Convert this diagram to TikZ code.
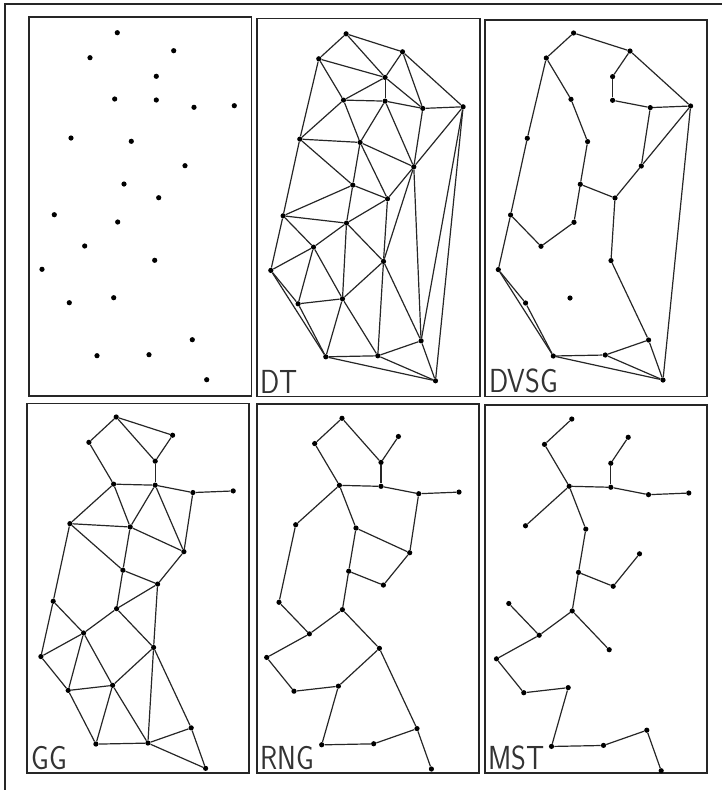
\documentclass[tikz,border=0pt]{standalone}
\usepackage{graphicx}
\begin{document}
\begin{tikzpicture}[x=0.75pt,y=-0.75pt,
  pt/.style={circle,fill=black,inner sep=0pt,minimum size=3.9pt},
  edge/.style={line width=0.9pt,black!85},
  frame/.style={line width=1.3pt,black!85},
  lab/.style={anchor=south west,inner sep=0pt,font=\fontsize{25}{25}\selectfont\sffamily,black!80}]
\useasboundingbox (0,0) rectangle (722,790);
\newcommand\ptlist{117.3/32.7/1,90/57.7/2,173.7/50.7/3,156.3/76.3/4,114.7/99/5,156.3/100/6,194/107.3/7,234.3/105.7/8,71/138/9,131.3/141.3/10,185/165.7/11,124/184/12,158.7/197.7/13,54.3/214.7/14,117.7/222/15,84.7/246/16,42/269.3/17,154.7/260.3/18,69.3/302.7/19,113.7/297.7/20,192.3/339.7/21,97/355.7/22,149/354.7/23,206.7/379.7/24}
\newcommand\mkpts[1]{\foreach \x/\y/\n in \ptlist {\node[pt] (#1\n) at (\x,\y) {};}}
\newcommand\mkedges[2]{\foreach \a/\b in {#2} {\draw[edge] (#1\a) -- (#1\b);}}
% outer frame
\draw[frame] (5,4) rectangle (730,800);
% panel frames
\draw[frame] (29,17) rectangle (251.5,396);
\draw[frame] (257.3,18.5) rectangle (480,396.5);
\draw[frame] (485,20) rectangle (706.7,396.5);
\draw[frame] (27.3,403.5) rectangle (249.3,773.3);
\draw[frame] (256.7,404) rectangle (478.7,773.3);
\draw[frame] (485,405) rectangle (706.7,773.3);
% panel 1: points
\begin{scope}
\mkpts{a}
\end{scope}
% panel 2: DT
\begin{scope}[shift={(228.8,1.1)}]
\mkpts{b}
\mkedges{b}{1/2,1/3,1/4,2/4,3/4,3/7,3/8,2/5,2/9,4/5,4/6,4/7,5/6,6/7,7/8,5/9,5/10,6/10,6/11,7/11,8/11,8/24,8/21,11/21,9/10,9/12,9/14,10/11,10/12,10/13,11/13,12/13,12/14,12/15,13/15,13/18,11/18,14/15,14/16,14/17,15/16,15/18,15/20,16/17,16/19,16/20,17/19,17/22,18/20,18/23,18/21,19/20,19/22,20/22,20/23,21/23,21/24,22/23,22/24,23/24}
\end{scope}
% panel 3: DVSG
\begin{scope}[shift={(456.3,0.3)}]
\mkpts{c}
\mkedges{c}{1/2,1/3,3/4,4/6,6/7,3/8,7/8,7/11,8/11,11/13,8/24,2/5,5/10,10/12,12/13,12/15,15/16,16/14,2/9,9/14,14/17,17/19,17/22,19/22,13/18,18/21,21/23,22/23,22/24,23/24,21/24}
\end{scope}
% panel 4: GG
\begin{scope}[shift={(-1.1,383.9)},yscale=1.0125]
\mkpts{d}
\mkedges{d}{1/2,1/3,1/4,3/4,2/5,4/6,5/6,6/7,7/8,5/9,5/10,6/10,6/11,7/11,9/10,10/11,9/12,10/12,11/13,12/13,9/14,12/15,13/15,13/18,14/16,14/17,15/16,15/18,16/17,16/19,16/20,17/19,18/20,18/23,18/21,19/20,19/22,20/22,20/23,22/23,21/23,23/24,21/24}
\end{scope}
% panel 5: RNG
\begin{scope}[shift={(224.7,385.25)},yscale=1.0107]
\mkpts{e}
\mkedges{e}{1/2,1/4,3/4,2/5,4/6,5/6,6/7,7/8,5/9,5/10,7/11,10/11,10/12,12/13,11/13,9/14,12/15,14/16,15/16,15/18,16/17,17/19,19/20,18/20,20/22,22/23,23/21,18/21,21/24}
\end{scope}
% panel 6: MST
\begin{scope}[shift={(454.5,385.9)},yscale=1.0135]
\mkpts{f}
\mkedges{f}{1/2,2/5,3/4,4/6,5/6,6/7,7/8,5/9,5/10,10/12,12/13,13/11,12/15,15/16,14/16,15/18,16/17,17/19,19/20,20/22,22/23,23/21,21/24}
\end{scope}
% labels
\node[lab] (labDT) at (260.5,393.5) {\scalebox{0.85}[1]{DT}};
\node[lab] (labDVSG) at (489,393.5) {\scalebox{0.85}[1]{DVSG}};
\node[lab] (labGG) at (31,770.5) {\scalebox{0.85}[1]{GG}};
\node[lab] (labRNG) at (260,770.5) {\scalebox{0.85}[1]{RNG}};
\node[lab] (labMST) at (488,770.5) {\scalebox{0.85}[1]{MST}};
\end{tikzpicture}
\end{document}
